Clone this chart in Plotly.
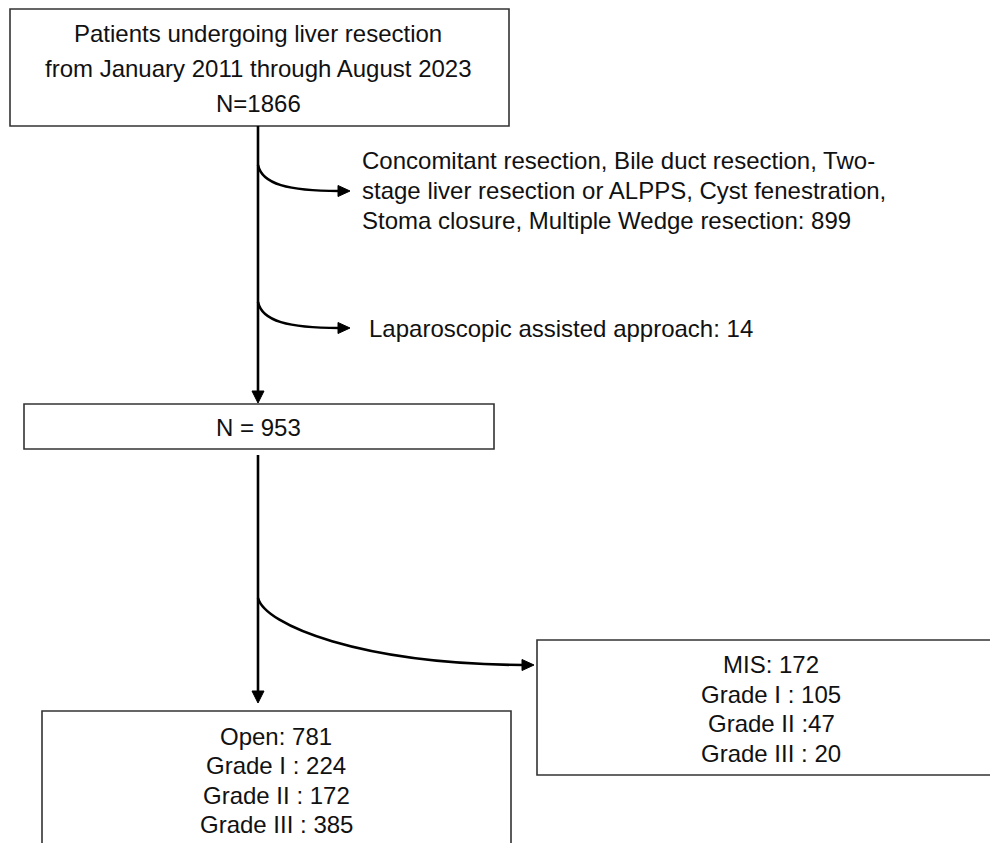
import plotly.graph_objects as go

# ---- content ----
top_lines = ["Patients undergoing liver resection",
             "from January 2011 through August 2023",
             "N=1866"]
excl1_lines = ["Concomitant resection, Bile duct resection, Two-",
               "stage liver resection or ALPPS, Cyst fenestration,",
               "Stoma closure, Multiple Wedge resection: 899"]
excl2_line = "Laparoscopic assisted approach: 14"
mid_line = "N = 953"
open_lines = ["Open: 781", "Grade I : 224", "Grade II : 172", "Grade III : 385"]
mis_lines = ["MIS: 172", "Grade I : 105", "Grade II :47", "Grade III : 20"]

# ---- layout geometry (page-pixel coordinates) ----
W, H = 998, 843
OFF = 8  # default page body margin
FONT = dict(family="Arial, Liberation Sans, sans-serif", size=24, color="#111111")
BOX_LINE = dict(color="#333333", width=1.6)
ARROW_LINE = dict(color="#000000", width=2.6)

boxes = {
    "top": (10, 9, 509, 126),
    "mid": (24, 404, 494, 449),
    "open": (42, 711, 511, 860),
    "mis": (537, 640, 1006, 775),
}
spine_x = 258

fig = go.Figure()
fig.add_trace(go.Scatter(x=[OFF, W], y=[OFF, H], mode="markers",
                         marker=dict(opacity=0), hoverinfo="skip", showlegend=False))

shapes = []
for (x0, y0, x1, y1) in boxes.values():
    shapes.append(dict(type="rect", xref="x", yref="y", x0=x0, y0=y0, x1=x1, y1=y1,
                       line=BOX_LINE, fillcolor="rgba(0,0,0,0)"))

# vertical spine segments
shapes.append(dict(type="line", xref="x", yref="y", x0=spine_x, y0=126, x1=spine_x, y1=393,
                   line=ARROW_LINE))
shapes.append(dict(type="line", xref="x", yref="y", x0=spine_x, y0=455, x1=spine_x, y1=692,
                   line=ARROW_LINE))

# curved branches
curves = [
    f"M {spine_x},165 C {spine_x+4},184 {spine_x+30},191 339,191",
    f"M {spine_x},302 C {spine_x+4},321 {spine_x+30},328 339,328",
    f"M {spine_x},598 C {spine_x+7},625 360,664 523,665",
]
for p in curves:
    shapes.append(dict(type="path", xref="x", yref="y", path=p, line=ARROW_LINE))

# arrow heads (filled triangles)
def head_right(tx, ty, L=12, hw=5.5):
    return f"M {tx},{ty} L {tx-L},{ty-hw} L {tx-L},{ty+hw} Z"

def head_down(tx, ty, L=12, hw=6):
    return f"M {tx},{ty} L {tx-hw},{ty-L} L {tx+hw},{ty-L} Z"

for p in [head_right(350, 191), head_right(350, 328), head_right(534, 665),
          head_down(spine_x, 403), head_down(spine_x, 703)]:
    shapes.append(dict(type="path", xref="x", yref="y", path=p,
                       fillcolor="#000000", line=dict(color="#000000", width=1)))

annotations = []
def txt(s, x, y, anchor="center"):
    annotations.append(dict(text=s, x=x, y=y, xref="x", yref="y", showarrow=False,
                            xanchor=anchor, yanchor="middle", font=FONT))

for s, y in zip(top_lines, [33, 68, 103]):
    txt(s, 258, y)
for s, y in zip(excl1_lines, [160, 190, 220]):
    txt(s, 360, y, "left")
txt(excl2_line, 367, 328, "left")
txt(mid_line, 258, 427)
for s, y in zip(open_lines, [736, 765, 795, 824]):
    txt(s, 276, y)
for s, y in zip(mis_lines, [664, 694, 723, 753]):
    txt(s, 771, y)

fig.update_layout(
    width=W - OFF, height=H - OFF,
    margin=dict(l=0, r=0, t=0, b=0),
    paper_bgcolor="white", plot_bgcolor="white",
    xaxis=dict(range=[OFF, W], visible=False, fixedrange=True),
    yaxis=dict(range=[H, OFF], visible=False, fixedrange=True),
    shapes=shapes, annotations=annotations, showlegend=False,
)

fig.write_html("out.html")
